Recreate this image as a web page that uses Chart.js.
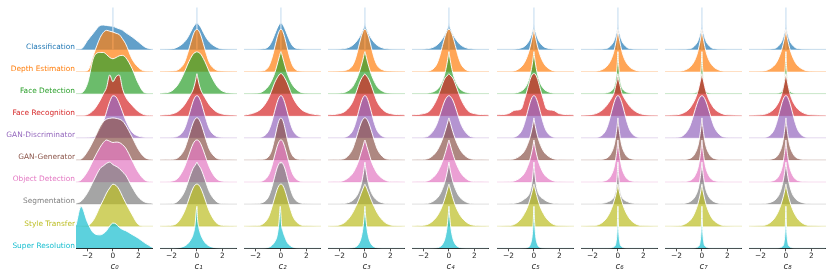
<!DOCTYPE html>
<html><head><meta charset="utf-8">
<script src="https://cdn.jsdelivr.net/npm/chart.js@4.4.1/dist/chart.umd.min.js"></script>
<style>
body{margin:0;background:#fff;width:831px;height:276px;overflow:hidden;position:relative}
canvas{position:absolute;top:0}
</style>
</head><body>
<script>
// ---------- data ----------
const CATEGORIES = ['Classification','Depth Estimation','Face Detection','Face Recognition','GAN-Discriminator','GAN-Generator','Object Detection','Segmentation','Style Transfer','Super Resolution'];
const PANEL_TITLES = ['c₀','c₁','c₂','c₃','c₄','c₅','c₆','c₇','c₈'];
const X_TICKS = [-2, 0, 2];
// x positions of the density samples
const GRID0 = [-2.9,-2.5,-2,-1.5,-1,-0.75,-0.5,-0.25,0,0.25,0.5,0.75,1,1.5,2,2.5,3.1];
const GRID  = [-2.9,-2,-1.5,-1,-0.75,-0.5,-0.3,-0.15,-0.05,0,0.05,0.15,0.3,0.5,0.75,1,1.5,2,3.1];
// normalized densities (max of each curve = 1), one row per category
const c0Density = [
 [0,0.01,0.21,0.4,0.57,0.58,0.57,0.56,0.55,0.52,0.49,0.46,0.4,0.3,0.18,0.06,0],
 [0,0,0.02,0.42,0.81,0.93,0.98,0.96,0.94,0.91,0.88,0.78,0.66,0.3,0.1,0.01,0],
 [0,0.01,0.24,0.87,0.98,0.98,0.93,0.86,0.83,0.86,0.9,0.91,0.86,0.6,0.24,0.02,0],
 [0,0,0.03,0.14,0.37,0.52,0.67,0.97,0.81,0.93,0.97,0.65,0.45,0.25,0.1,0.02,0],
 [0,0,0.01,0.02,0.22,0.38,0.62,0.86,1,0.97,0.82,0.62,0.42,0.14,0.04,0.01,0],
 [0,0.02,0.2,0.48,0.8,0.91,0.97,0.99,1,0.99,0.97,0.93,0.83,0.55,0.25,0.06,0],
 [0,0.05,0.25,0.55,0.83,0.94,1,0.97,0.94,0.95,0.94,0.89,0.81,0.52,0.23,0.05,0],
 [0.02,0.07,0.27,0.57,0.85,0.91,0.97,1,0.94,0.9,0.85,0.77,0.69,0.41,0.17,0.05,0.02],
 [0,0,0.01,0.16,0.48,0.63,0.79,0.91,1,0.97,0.87,0.71,0.56,0.28,0.04,0,0],
 [0.55,1,0.62,0.36,0.32,0.35,0.42,0.53,0.6,0.58,0.5,0.45,0.42,0.33,0.24,0.13,0.02]
];
const c1Density = [
 [0,0.01,0.06,0.17,0.27,0.41,0.53,0.59,0.62,0.62,0.62,0.59,0.53,0.41,0.27,0.17,0.06,0.01,0],
 [0,0.01,0.04,0.2,0.41,0.67,0.87,0.97,1,1,1,0.97,0.87,0.67,0.41,0.2,0.04,0.01,0],
 [0,0.06,0.21,0.5,0.68,0.84,0.94,0.98,0.99,1,0.99,0.98,0.94,0.84,0.68,0.5,0.21,0.06,0],
 [0.01,0.04,0.1,0.25,0.37,0.5,0.62,0.78,0.93,1,0.93,0.78,0.62,0.5,0.37,0.25,0.1,0.04,0.01],
 [0,0.01,0.04,0.2,0.41,0.67,0.87,0.97,1,1,1,0.97,0.87,0.67,0.41,0.2,0.04,0.01,0],
 [0,0.01,0.05,0.24,0.45,0.7,0.88,0.97,1,1,1,0.97,0.88,0.7,0.45,0.24,0.05,0.01,0],
 [0,0.02,0.09,0.34,0.54,0.76,0.91,0.98,1,1,1,0.98,0.91,0.76,0.54,0.34,0.09,0.02,0],
 [0,0.01,0.07,0.28,0.48,0.7,0.85,0.92,0.97,1,0.97,0.92,0.85,0.7,0.48,0.28,0.07,0.01,0],
 [0,0.02,0.09,0.34,0.54,0.76,0.91,0.98,1,1,1,0.98,0.91,0.76,0.54,0.34,0.09,0.02,0],
 [0,0,0.01,0.05,0.1,0.2,0.33,0.55,0.9,1,0.7,0.5,0.33,0.2,0.1,0.05,0.01,0,0]
];
const c2Density = [
 [0,0,0.01,0.06,0.17,0.35,0.5,0.59,0.62,0.62,0.62,0.59,0.5,0.35,0.17,0.06,0.01,0,0],
 [0,0,0.01,0.1,0.28,0.56,0.81,0.95,1,1,1,0.95,0.81,0.56,0.28,0.1,0.01,0,0],
 [0,0.01,0.04,0.17,0.3,0.48,0.68,0.85,0.96,1,0.96,0.85,0.68,0.48,0.3,0.17,0.04,0.01,0],
 [0.01,0.08,0.18,0.4,0.58,0.78,0.9,0.97,1,1,1,0.97,0.9,0.78,0.58,0.4,0.18,0.08,0.01],
 [0,0,0.02,0.15,0.34,0.62,0.84,0.96,1,1,1,0.96,0.84,0.62,0.34,0.15,0.02,0,0],
 [0,0,0.01,0.07,0.21,0.5,0.78,0.94,0.99,1,0.99,0.94,0.78,0.5,0.21,0.07,0.01,0,0],
 [0,0,0.02,0.15,0.34,0.62,0.84,0.96,1,1,1,0.96,0.84,0.62,0.34,0.15,0.02,0,0],
 [0,0.01,0.03,0.16,0.36,0.64,0.86,0.96,1,0.97,1,0.96,0.86,0.64,0.36,0.16,0.03,0.01,0],
 [0,0.01,0.04,0.2,0.41,0.67,0.87,0.97,1,1,1,0.97,0.87,0.67,0.41,0.2,0.04,0.01,0],
 [0,0,0,0.02,0.06,0.15,0.3,0.62,1,0.8,0.55,0.42,0.28,0.14,0.06,0.02,0,0,0]
];
const c3Density = [
 [0,0.006,0.025,0.09,0.16,0.26,0.37,0.48,0.57,0.62,0.57,0.48,0.37,0.26,0.16,0.09,0.025,0.006,0],
 [0,0.01,0.03,0.13,0.3,0.58,0.82,0.95,1,1,1,0.95,0.82,0.58,0.3,0.13,0.03,0.01,0],
 [0,0.01,0.04,0.15,0.28,0.46,0.65,0.82,0.95,1,0.95,0.82,0.65,0.46,0.28,0.15,0.04,0.01,0],
 [0.02,0.05,0.12,0.31,0.5,0.72,0.87,0.94,0.98,1,0.98,0.94,0.87,0.72,0.5,0.31,0.12,0.05,0.02],
 [0,0,0.02,0.15,0.34,0.62,0.84,0.96,1,1,1,0.96,0.84,0.62,0.34,0.15,0.02,0,0],
 [0,0.01,0.05,0.24,0.45,0.7,0.88,0.97,1,1,1,0.97,0.88,0.7,0.45,0.24,0.05,0.01,0],
 [0,0.01,0.06,0.19,0.32,0.5,0.7,0.85,0.96,1,0.96,0.85,0.7,0.5,0.32,0.19,0.06,0.01,0],
 [0,0.005,0.02,0.08,0.15,0.28,0.46,0.68,0.88,1,0.88,0.68,0.46,0.28,0.15,0.08,0.02,0.005,0],
 [0,0.03,0.11,0.3,0.45,0.62,0.78,0.9,0.97,1,0.97,0.9,0.78,0.62,0.45,0.3,0.11,0.03,0],
 [0,0,0,0.01,0.03,0.1,0.25,0.5,0.79,1,0.79,0.5,0.25,0.1,0.03,0.01,0,0,0]
];
const c4Density = [
 [0,0.006,0.025,0.09,0.16,0.26,0.37,0.48,0.57,0.62,0.57,0.48,0.37,0.26,0.16,0.09,0.025,0.006,0],
 [0,0,0.02,0.15,0.34,0.62,0.84,0.96,1,1,1,0.96,0.84,0.62,0.34,0.15,0.02,0,0],
 [0,0,0.02,0.08,0.16,0.31,0.5,0.72,0.9,1,0.9,0.72,0.5,0.31,0.16,0.08,0.02,0,0],
 [0.02,0.05,0.12,0.36,0.55,0.76,0.9,0.95,0.98,1,0.98,0.95,0.9,0.76,0.55,0.36,0.12,0.05,0.02],
 [0,0.01,0.07,0.29,0.5,0.74,0.9,0.97,1,1,1,0.97,0.9,0.74,0.5,0.29,0.07,0.01,0],
 [0,0.01,0.05,0.19,0.32,0.5,0.68,0.84,0.95,1,0.95,0.84,0.68,0.5,0.32,0.19,0.05,0.01,0],
 [0,0.01,0.05,0.19,0.32,0.5,0.68,0.84,0.95,1,0.95,0.84,0.68,0.5,0.32,0.19,0.05,0.01,0],
 [0,0.005,0.03,0.12,0.21,0.37,0.55,0.74,0.9,1,0.9,0.74,0.55,0.37,0.21,0.12,0.03,0.005,0],
 [0,0.02,0.07,0.21,0.33,0.5,0.68,0.84,0.95,1,0.95,0.84,0.68,0.5,0.33,0.21,0.07,0.02,0],
 [0,0,0,0.01,0.03,0.1,0.25,0.5,0.79,1,0.79,0.5,0.25,0.1,0.03,0.01,0,0,0]
];
const c5Density = [
 [0,0,0.006,0.036,0.07,0.15,0.26,0.4,0.52,0.6,0.52,0.4,0.26,0.15,0.07,0.036,0.006,0,0],
 [0,0,0.02,0.11,0.21,0.38,0.58,0.78,0.93,1,0.93,0.78,0.58,0.38,0.21,0.11,0.02,0,0],
 [0,0,0.01,0.06,0.12,0.25,0.44,0.66,0.87,1,0.87,0.66,0.44,0.25,0.12,0.06,0.01,0,0],
 [0.02,0.05,0.13,0.16,0.38,0.64,0.86,0.97,1,1,1,0.97,0.86,0.64,0.38,0.16,0.13,0.05,0.02],
 [0,0,0.02,0.15,0.34,0.62,0.84,0.96,1,1,1,0.96,0.84,0.62,0.34,0.15,0.02,0,0],
 [0,0.005,0.03,0.12,0.21,0.37,0.55,0.74,0.9,1,0.9,0.74,0.55,0.37,0.21,0.12,0.03,0.005,0],
 [0,0.005,0.03,0.12,0.21,0.37,0.55,0.74,0.9,1,0.9,0.74,0.55,0.37,0.21,0.12,0.03,0.005,0],
 [0,0,0.02,0.07,0.12,0.18,0.3,0.52,0.8,1,0.8,0.52,0.3,0.18,0.12,0.07,0.02,0,0],
 [0,0.01,0.05,0.18,0.3,0.46,0.65,0.82,0.95,1,0.95,0.82,0.65,0.46,0.3,0.18,0.05,0.01,0],
 [0,0,0,0,0.005,0.02,0.08,0.27,0.65,1,0.65,0.27,0.08,0.02,0.005,0,0,0,0]
];
const c6Density = [
 [0,0,0.003,0.018,0.04,0.11,0.21,0.36,0.5,0.6,0.5,0.36,0.21,0.11,0.04,0.018,0.003,0,0],
 [0,0,0.02,0.09,0.17,0.31,0.5,0.71,0.89,1,0.89,0.71,0.5,0.31,0.17,0.09,0.02,0,0],
 [0,0,0,0.01,0.03,0.07,0.16,0.38,0.72,1,0.72,0.38,0.16,0.07,0.03,0.01,0,0,0],
 [0.01,0.03,0.08,0.2,0.3,0.42,0.55,0.75,0.88,1,0.88,0.75,0.55,0.42,0.3,0.2,0.08,0.03,0.01],
 [0,0,0.02,0.15,0.34,0.62,0.84,0.96,1,1,1,0.96,0.84,0.62,0.34,0.15,0.02,0,0],
 [0,0,0.005,0.03,0.07,0.18,0.35,0.6,0.84,1,0.84,0.6,0.35,0.18,0.07,0.03,0.005,0,0],
 [0,0,0.005,0.03,0.07,0.18,0.35,0.6,0.84,1,0.84,0.6,0.35,0.18,0.07,0.03,0.005,0,0],
 [0,0,0.01,0.03,0.06,0.1,0.18,0.38,0.72,1,0.72,0.38,0.18,0.1,0.06,0.03,0.01,0,0],
 [0,0.01,0.04,0.15,0.26,0.42,0.6,0.77,0.92,1,0.92,0.77,0.6,0.42,0.26,0.15,0.04,0.01,0],
 [0,0,0,0,0,0.01,0.04,0.14,0.5,1,0.5,0.14,0.04,0.01,0,0,0,0,0]
];
const c7Density = [
 [0,0,0.003,0.018,0.04,0.11,0.21,0.36,0.5,0.6,0.5,0.36,0.21,0.11,0.04,0.018,0.003,0,0],
 [0,0,0.02,0.09,0.17,0.31,0.5,0.71,0.89,1,0.89,0.71,0.5,0.31,0.17,0.09,0.02,0,0],
 [0,0,0,0,0.005,0.02,0.08,0.27,0.65,1,0.65,0.27,0.08,0.02,0.005,0,0,0,0],
 [0.01,0.02,0.06,0.16,0.27,0.42,0.6,0.8,0.93,1,0.93,0.8,0.6,0.42,0.27,0.16,0.06,0.02,0.01],
 [0,0.01,0.05,0.24,0.45,0.7,0.88,0.97,1,1,1,0.97,0.88,0.7,0.45,0.24,0.05,0.01,0],
 [0,0,0.005,0.03,0.07,0.18,0.35,0.6,0.84,1,0.84,0.6,0.35,0.18,0.07,0.03,0.005,0,0],
 [0,0,0.005,0.03,0.07,0.18,0.35,0.6,0.84,1,0.84,0.6,0.35,0.18,0.07,0.03,0.005,0,0],
 [0,0,0.01,0.05,0.1,0.2,0.36,0.6,0.84,1,0.84,0.6,0.36,0.2,0.1,0.05,0.01,0,0],
 [0,0.005,0.03,0.12,0.21,0.37,0.55,0.74,0.9,1,0.9,0.74,0.55,0.37,0.21,0.12,0.03,0.005,0],
 [0,0,0,0,0,0.01,0.04,0.14,0.5,1,0.5,0.14,0.04,0.01,0,0,0,0,0]
];
const c8Density = [
 [0,0,0.003,0.018,0.04,0.11,0.21,0.36,0.5,0.6,0.5,0.36,0.21,0.11,0.04,0.018,0.003,0,0],
 [0,0.005,0.03,0.12,0.21,0.37,0.55,0.74,0.9,1,0.9,0.74,0.55,0.37,0.21,0.12,0.03,0.005,0],
 [0,0,0,0,0.005,0.02,0.08,0.27,0.65,1,0.65,0.27,0.08,0.02,0.005,0,0,0,0],
 [0.01,0.02,0.05,0.14,0.23,0.37,0.55,0.76,0.92,1,0.92,0.76,0.55,0.37,0.23,0.14,0.05,0.02,0.01],
 [0,0,0.02,0.15,0.34,0.62,0.84,0.96,1,1,1,0.96,0.84,0.62,0.34,0.15,0.02,0,0],
 [0,0,0.005,0.03,0.07,0.18,0.35,0.6,0.84,1,0.84,0.6,0.35,0.18,0.07,0.03,0.005,0,0],
 [0,0,0.005,0.03,0.07,0.18,0.35,0.6,0.84,1,0.84,0.6,0.35,0.18,0.07,0.03,0.005,0,0],
 [0,0.005,0.02,0.07,0.13,0.25,0.44,0.66,0.87,1,0.87,0.66,0.44,0.25,0.13,0.07,0.02,0.005,0],
 [0,0.01,0.04,0.15,0.26,0.42,0.6,0.77,0.92,1,0.92,0.77,0.6,0.42,0.26,0.15,0.04,0.01,0],
 [0,0,0,0,0,0.01,0.04,0.14,0.5,1,0.5,0.14,0.04,0.01,0,0,0,0,0]
];
// height of the narrow spike at 0 in the Classification curve, per panel
const CLS_SPIKE = [1,1,1,1,1,1,1,1,1];

// ---------- styling / layout ----------
const DENSITIES = [c0Density,c1Density,c2Density,c3Density,c4Density,c5Density,c6Density,c7Density,c8Density];
const COLORS = ['#1f77b4','#ff7f0e','#2ca02c','#d62728','#9467bd','#8c564b','#e377c2','#7f7f7f','#bcbd22','#17becf'];
const X_MIN = -2.9, X_MAX = 3.15;
const W = 831, H = 276;
const AXIS_Y = 248.3;          // pixel of bottom axis line
const ROW_PX = 22.1;           // spacing of ridge baselines
const OVERLAP = 1.9;           // curve max height in rows
const LABEL_W = 76;
const PLOT_W = 77;
const PANEL_STEP = 84.1;
const FONT = 'DejaVu Sans';
const INK = '#262626';

function rgba(hex, a){
  const n = parseInt(hex.slice(1),16);
  return `rgba(${n>>16},${(n>>8)&255},${n&255},${a})`;
}

const nRows = CATEGORIES.length;
const yMax = AXIS_Y / ROW_PX;

DENSITIES.forEach((dens, p) => {
  const grid = p === 0 ? GRID0 : GRID;
  const canvas = document.createElement('canvas');
  const plotLeft = Math.round(LABEL_W + PANEL_STEP * p);
  const left = p === 0 ? 0 : plotLeft;
  const width = p === 0 ? LABEL_W + PLOT_W : PLOT_W;
  canvas.width = width; canvas.height = H;
  canvas.style.left = left + 'px';
  canvas.style.width = width + 'px'; canvas.style.height = H + 'px';
  document.body.appendChild(canvas);

  const datasets = [];
  CATEGORIES.forEach((cat, i) => {
    const base = nRows - 1 - i;
    const ob = (nRows - 1 - i) * 3;
    const vals = dens[i];
    datasets.push({
      label: cat,
      data: grid.map((x, k) => ({x, y: base + OVERLAP * vals[k]})),
      fill: {value: base},
      backgroundColor: rgba(COLORS[i], 0.7),
      borderColor: 'rgba(255,255,255,0.95)',
      borderWidth: 1,
      pointRadius: 0,
      cubicInterpolationMode: 'monotone',
      order: ob + 2
    });
    datasets.push({
      label: cat + ' baseline',
      data: [{x: X_MIN, y: base}, {x: X_MAX, y: base}],
      fill: false,
      borderColor: rgba(COLORS[i], 0.25),
      borderWidth: 1,
      pointRadius: 0,
      order: ob + 1
    });
    if (i === 0 && CLS_SPIKE[p] > 0) {
      datasets.push({
        label: cat + ' spike',
        data: [{x: 0, y: base}, {x: 0, y: base + OVERLAP * CLS_SPIKE[p]}],
        fill: false,
        borderColor: 'rgba(205,225,242,0.95)',
        borderWidth: 1.3,
        pointRadius: 0,
        order: ob
      });
    }
  });

  new Chart(canvas, {
    type: 'line',
    data: {datasets},
    options: {
      responsive: false, animation: false, devicePixelRatio: 1, events: [],
      layout: {padding: 0},
      plugins: {legend: {display: false}, tooltip: {enabled: false}},
      scales: {
        x: {
          type: 'linear', min: X_MIN, max: X_MAX,
          afterBuildTicks: s => { s.ticks = X_TICKS.map(v => ({value: v})); },
          afterFit: s => { s.height = H - AXIS_Y; s.paddingLeft = 0; s.paddingRight = 0; },
          ticks: {
            callback: v => (v < 0 ? '\u2212' : '') + Math.abs(v),
            font: {family: FONT, size: 7.4}, color: INK, padding: 0.5,
            maxRotation: 0, autoSkip: false
          },
          grid: {display: true, drawOnChartArea: false, drawTicks: true, tickLength: 3, tickColor: INK, tickWidth: 0.8},
          border: {display: true, color: INK, width: 1},
          title: {display: true, text: PANEL_TITLES[p], color: INK,
                  font: {family: FONT, size: 8.5, style: 'italic'}, padding: {top: 0, bottom: 4.5}}
        },
        y: {
          type: 'linear', min: 0, max: yMax,
          display: p === 0,
          afterBuildTicks: s => { s.ticks = CATEGORIES.map((c, i) => ({value: nRows - 1 - i})); },
          afterFit: s => { if (p === 0) s.width = LABEL_W; s.paddingTop = 0; s.paddingBottom = 0; },
          grid: {display: false, drawTicks: false},
          border: {display: false},
          ticks: {
            callback: v => CATEGORIES[nRows - 1 - v],
            color: ctx => COLORS[nRows - 1 - ctx.tick.value],
            font: {family: FONT, size: 7.4}, padding: 1, labelOffset: -2.6, autoSkip: false
          }
        }
      }
    }
  });
});
</script>
</body></html>
